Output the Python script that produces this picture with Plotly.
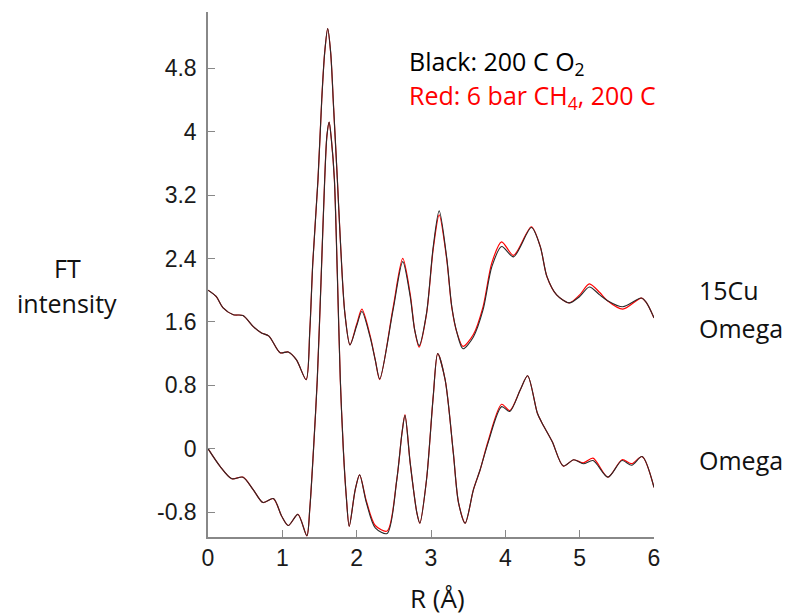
import plotly.graph_objects as go

# ---- data ----
top_x = [0, 0.11, 0.2, 0.34, 0.47, 0.61, 0.72, 0.82, 0.97, 1.08, 1.19, 1.32,
         1.37, 1.41, 1.48, 1.53, 1.57, 1.61, 1.65, 1.69, 1.74, 1.78, 1.84, 1.91,
         2.0, 2.07, 2.18, 2.25, 2.31, 2.49, 2.62, 2.72, 2.78, 2.84, 2.94, 3.03, 3.11,
         3.21, 3.28, 3.35, 3.43, 3.57, 3.70, 3.82, 3.95, 4.11, 4.35, 4.47, 4.56,
         4.69, 4.86, 5.0, 5.13, 5.27, 5.37, 5.58, 5.83, 5.90, 6.0]
top_black = [2.0, 1.92, 1.78, 1.69, 1.68, 1.54, 1.46, 1.42, 1.21, 1.22, 1.12, 0.87,
             1.50, 2.35, 3.40, 4.40, 5.0, 5.30, 5.0, 4.30, 3.40, 2.64, 1.72, 1.31,
             1.55, 1.73, 1.41, 1.12, 0.88, 1.75, 2.36, 1.92, 1.50, 1.30, 1.71, 2.55, 3.0,
             2.42, 1.79, 1.46, 1.26, 1.41, 1.75, 2.30, 2.55, 2.42, 2.79, 2.55, 2.17,
             1.94, 1.84, 1.92, 2.04, 1.94, 1.87, 1.79, 1.90, 1.84, 1.65]
top_red = [2.0, 1.92, 1.78, 1.69, 1.68, 1.54, 1.46, 1.42, 1.21, 1.22, 1.12, 0.87,
           1.50, 2.35, 3.40, 4.40, 5.0, 5.30, 5.0, 4.30, 3.40, 2.64, 1.72, 1.31,
           1.57, 1.76, 1.43, 1.12, 0.87, 1.78, 2.40, 1.95, 1.50, 1.28, 1.70, 2.52, 2.95,
           2.40, 1.78, 1.46, 1.29, 1.44, 1.79, 2.35, 2.61, 2.44, 2.80, 2.55, 2.17,
           1.94, 1.84, 1.94, 2.08, 1.97, 1.87, 1.76, 1.90, 1.84, 1.65]

bot_x = [0, 0.16, 0.32, 0.47, 0.61, 0.74, 0.88, 0.99, 1.08, 1.21, 1.33,
         1.37, 1.42, 1.47, 1.52, 1.57, 1.60, 1.63, 1.66, 1.70, 1.74, 1.78, 1.82, 1.86, 1.90,
         1.98, 2.04, 2.13, 2.25, 2.41, 2.54, 2.61, 2.65, 2.72, 2.81, 2.85, 2.94, 3.03, 3.09,
         3.19, 3.30, 3.37, 3.46, 3.57, 3.66, 3.77, 3.95, 4.06, 4.20, 4.30, 4.43, 4.49,
         4.63, 4.78, 4.92, 5.05, 5.18, 5.38, 5.57, 5.70, 5.84, 6.0]
bot_black = [0.0, -0.22, -0.38, -0.36, -0.52, -0.68, -0.63, -0.85, -0.97, -0.83, -1.10,
             -0.75, 0.0, 0.87, 2.10, 3.40, 3.95, 4.12, 3.90, 3.40, 2.20, 0.87, 0.0, -0.60, -0.98,
             -0.52, -0.33, -0.68, -1.0, -1.07, -0.39, 0.20, 0.42, -0.18, -0.81, -0.94, -0.39, 0.66, 1.20,
             0.87, -0.05, -0.68, -0.94, -0.52, -0.27, 0.08, 0.53, 0.47, 0.74, 0.92, 0.45, 0.33,
             0.09, -0.22, -0.14, -0.19, -0.15, -0.36, -0.15, -0.21, -0.10, -0.49]
bot_red = [0.0, -0.22, -0.38, -0.36, -0.52, -0.68, -0.63, -0.85, -0.97, -0.83, -1.10,
           -0.75, 0.0, 0.87, 2.10, 3.40, 3.95, 4.12, 3.90, 3.40, 2.20, 0.87, 0.0, -0.60, -0.98,
           -0.52, -0.33, -0.66, -0.97, -1.04, -0.39, 0.20, 0.43, -0.18, -0.81, -0.94, -0.39, 0.66, 1.20,
           0.87, -0.05, -0.68, -0.94, -0.52, -0.27, 0.10, 0.56, 0.48, 0.74, 0.92, 0.45, 0.33,
           0.09, -0.22, -0.14, -0.18, -0.12, -0.36, -0.14, -0.19, -0.10, -0.49]

y_tickvals = [-0.8, 0, 0.8, 1.6, 2.4, 3.2, 4.0, 4.8]
y_ticktext = ["-0.8", "0", "0.8", "1.6", "2.4", "3.2", "4", "4.8"]
x_tickvals = [0, 1, 2, 3, 4, 5, 6]

fig = go.Figure()
line_kw = dict(shape="spline", smoothing=0.8)
for xs, ys in [(top_x, top_red), (bot_x, bot_red)]:
    fig.add_trace(go.Scatter(x=xs, y=ys, mode="lines",
                             line=dict(color="#ff0000", width=1.2, **line_kw),
                             showlegend=False, hoverinfo="skip"))
for xs, ys in [(top_x, top_black), (bot_x, bot_black)]:
    fig.add_trace(go.Scatter(x=xs, y=ys, mode="lines",
                             line=dict(color="#2a2a2a", width=1.1, **line_kw),
                             showlegend=False, hoverinfo="skip"))

axis_common = dict(showgrid=False, zeroline=False, showline=True,
                   linecolor="#888888", linewidth=1.5, ticks="inside",
                   ticklen=7, tickcolor="#888888", tickwidth=1.2,
                   tickfont=dict(family="Liberation Sans, Arial", size=23, color="#1a1a1a"))

# the page body adds an 8px offset, so the figure is sized/margined to compensate
fig.update_layout(
    width=783, height=607,
    margin=dict(l=200, r=137, t=4, b=78),
    plot_bgcolor="white", paper_bgcolor="white",
    xaxis=dict(range=[0, 6], tickvals=x_tickvals, **axis_common),
    yaxis=dict(range=[-1.115, 5.51], tickvals=y_tickvals, ticktext=y_ticktext,
               ticklabelstandoff=5, **axis_common),
)

FONT = "Open Sans, Noto Sans, sans-serif"
lab_font = dict(family=FONT, size=25, color="#111111")


def note(text, x, y, xanchor="left", font=lab_font):
    fig.add_annotation(text=text, xref="paper", yref="paper", x=x, y=y,
                       xanchor=xanchor, yanchor="middle", showarrow=False, font=font)


note("FT", -0.316, 0.512, "center")
note("intensity", -0.316, 0.445, "center")
note("15Cu", 1.096, 0.470)
note("Omega", 1.096, 0.398)
note("Omega", 1.096, 0.147)
note("R (Å)", 0.514, -0.116, "center", dict(family=FONT, size=26, color="#111111"))
note("Black: 200 C O<sub>2</sub>", 0.446, 0.903, "left", dict(family=FONT, size=25, color="#000000"))
note("Red: 6 bar CH<sub>4</sub>, 200 C", 0.446, 0.839, "left", dict(family=FONT, size=25, color="#ff0000"))

fig.write_html("out.html")
